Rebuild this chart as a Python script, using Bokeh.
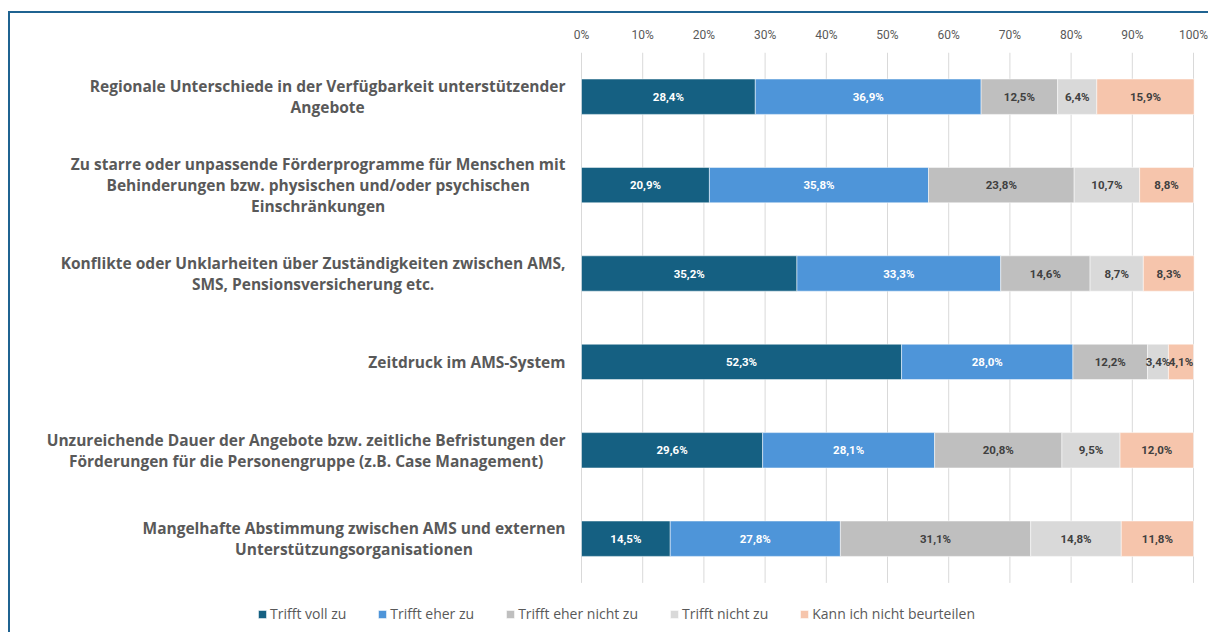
from bokeh.plotting import figure
from bokeh.models import (Range1d, FixedTicker, PrintfTickFormatter,
                          Legend, LegendItem, ColumnDataSource)
from bokeh.core.properties import value
from bokeh.embed import file_html
from bokeh.resources import INLINE

categories = [
    "Regionale Unterschiede in der Verfügbarkeit unterstützender\nAngebote",
    "Zu starre oder unpassende Förderprogramme für Menschen mit\nBehinderungen bzw. physischen und/oder psychischen\nEinschränkungen",
    "Konflikte oder Unklarheiten über Zuständigkeiten zwischen AMS,\nSMS, Pensionsversicherung etc.",
    "Zeitdruck im AMS-System",
    "Unzureichende Dauer der Angebote bzw. zeitliche Befristungen der\nFörderungen für die Personengruppe (z.B. Case Management)",
    "Mangelhafte Abstimmung zwischen AMS und externen\nUnterstützungsorganisationen",
]
series = ["Trifft voll zu", "Trifft eher zu", "Trifft eher nicht zu",
          "Trifft nicht zu", "Kann ich nicht beurteilen"]
trifft_voll_zu = [28.4, 20.9, 35.2, 52.3, 29.6, 14.5]
trifft_eher_zu = [36.9, 35.8, 33.3, 28.0, 28.1, 27.8]
trifft_eher_nicht_zu = [12.5, 23.8, 14.6, 12.2, 20.8, 31.1]
trifft_nicht_zu = [6.4, 10.7, 8.7, 3.4, 9.5, 14.8]
kann_nicht_beurteilen = [15.9, 8.8, 8.3, 4.1, 12.0, 11.8]
tick_values = [0, 10, 20, 30, 40, 50, 60, 70, 80, 90, 100]

colors = ["#156082", "#4E95D9", "#BFBFBF", "#D9D9D9", "#F6C5AC"]
label_colors = ["#FFFFFF", "#FFFFFF", "#404040", "#404040", "#404040"]
TEXT = "#595959"
FONT = "Roboto"
LABEL_FONT = "Open Sans"
FRAME = "#1F6391"

all_series = [trifft_voll_zu, trifft_eher_zu, trifft_eher_nicht_zu,
              trifft_nicht_zu, kann_nicht_beurteilen]
keys = ["s0", "s1", "s2", "s3", "s4"]
n = len(categories)
pos = list(range(n))
data = dict(pos=pos, cat=categories)
for k, v in zip(keys, all_series):
    data[k] = v
source = ColumnDataSource(data)

W, H = 1208, 632
zero_px, px_per_pct = 581, 6.12
top_px, px_per_cat = 52, 88.4

p = figure(width=W, height=H,
           x_range=Range1d(-zero_px / px_per_pct, (W - zero_px) / px_per_pct),
           y_range=Range1d(-0.5 + (H - top_px) / px_per_cat, -0.5),
           x_axis_location="above", y_axis_location=None,
           output_backend="svg", toolbar_location=None,
           min_border_left=0, min_border_right=0,
           min_border_top=top_px, min_border_bottom=0)
p.styles = {
    "background": (f"linear-gradient({FRAME},{FRAME}) 8px 11px / 2px calc(100% - 11px) no-repeat, "
                   f"linear-gradient({FRAME},{FRAME}) 8px 11px / calc(100% - 8px) 2px no-repeat, white"),
}
p.outline_line_color = None
p.background_fill_color = None
p.border_fill_color = None
p.xgrid.grid_line_color = None
p.ygrid.grid_line_color = None

# vertical gridlines spanning the category band only
p.segment(x0=tick_values, x1=tick_values, y0=[-0.5] * len(tick_values),
          y1=[n - 0.5] * len(tick_values), line_color="#D9D9D9", line_width=1)

renderers = p.hbar_stack(keys, y="pos", height=0.4, color=colors, source=source,
                         line_color="white", line_width=0.5)

# segment labels
lx, ly, lt, lc = [], [], [], []
for i in pos:
    left = 0.0
    for j, s in enumerate(all_series):
        v = s[i]
        lx.append(left + v / 2)
        ly.append(i)
        lt.append(f"{v:.1f}%".replace(".", ","))
        lc.append(label_colors[j])
        left += v
p.text(x=lx, y=ly, text=lt, text_color=lc, text_align="center",
       text_baseline="middle", text_font=value(FONT), text_font_size="11.5px",
       text_font_style="bold")

# category labels
p.text(x=[-16 / px_per_pct] * n, y=pos, text=categories,
       anchor="center_right", text_align="center", text_baseline="middle",
       text_font=value(LABEL_FONT), text_font_size="15.5px", text_font_style="bold",
       text_color=TEXT, text_line_height=0.96)

ax = p.xaxis[0]
ax.ticker = FixedTicker(ticks=tick_values)
ax.formatter = PrintfTickFormatter(format="%d%%")
ax.axis_line_color = None
ax.major_tick_line_color = None
ax.minor_tick_line_color = None
ax.major_tick_out = 0
ax.major_label_standoff = 11
ax.major_label_text_font = FONT
ax.major_label_text_font_size = "12px"
ax.major_label_text_color = TEXT

legend = Legend(items=[LegendItem(label=s, renderers=[r]) for s, r in zip(series, renderers)],
                orientation="horizontal", location=(257, 9),
                glyph_width=10, glyph_height=10, label_height=14, label_standoff=3,
                spacing=31, padding=0, margin=0,
                label_text_font=LABEL_FONT, label_text_font_size="14px",
                label_text_color=TEXT, border_line_color=None,
                background_fill_alpha=0)
p.add_layout(legend, "center")

open("out.html", "w").write(file_html(p, INLINE))
